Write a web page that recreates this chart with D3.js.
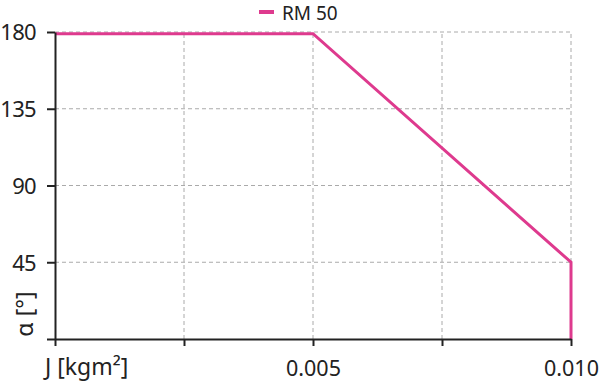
<!DOCTYPE html>
<html><head><meta charset="utf-8">
<script src="https://cdn.jsdelivr.net/npm/d3@7"></script>
<style>body{margin:0;background:#fff}svg{display:block}text{font-family:"Noto Sans",sans-serif;fill:#222}</style>
</head><body><svg id="c" width="600" height="383"></svg>
<script>
const seriesName = "RM 50";
const jValues = [0, 0.005, 0.010, 0.010];
const alphaValues = [179, 179, 45, 0];
const xTicks = [0, 0.0025, 0.005, 0.0075, 0.010];
const xTickLabels = ["", "", "0.005", "", "0.010"];
const yTicks = [0, 45, 90, 135, 180];
const yTickLabels = ["", "45", "90", "135", "180"];
const xTitle = "J [kgm²]";
const yTitle = "α [°]";
const color = "#de3a8e";

const svg = d3.select("#c");
const m = {l:55, r:29, t:32, b:44};
const W = 600, H = 383;
const x = d3.scaleLinear().domain([0, 0.010]).range([m.l, W - m.r]);
const y = d3.scaleLinear().domain([0, 180]).range([H - m.b, m.t]);

// grid
const g = svg.append("g");
g.selectAll(".gx").data(xTicks.slice(1)).join("line")
  .attr("x1", d => x(d)).attr("x2", d => x(d)).attr("y1", y(0)).attr("y2", y(180))
  .attr("stroke", "#aaa").attr("stroke-width", 1).attr("stroke-dasharray", "4,3");
g.selectAll(".gy").data(yTicks.slice(1)).join("line")
  .attr("y1", d => y(d)).attr("y2", d => y(d)).attr("x1", x(0)).attr("x2", x(0.010))
  .attr("stroke", "#aaa").attr("stroke-width", 1).attr("stroke-dasharray", "4,3");

// line
const line = d3.line().x((d, i) => x(jValues[i])).y((d, i) => y(alphaValues[i]));
svg.append("path").datum(alphaValues).attr("d", line).attr("fill", "none")
  .attr("stroke", color).attr("stroke-width", 3).attr("stroke-linejoin", "miter");

// axes
const xAxis = d3.axisBottom(x).tickValues(xTicks).tickFormat((d, i) => xTickLabels[i]).tickSize(7).tickSizeOuter(0);
const gx = svg.append("g").attr("transform", `translate(0,${y(0)})`).call(xAxis);
gx.select(".domain").attr("stroke", "#222").attr("stroke-width", 2);
gx.selectAll(".tick line").attr("stroke", "#222").attr("stroke-width", 2);
gx.selectAll(".tick text").attr("font-size", 21.5).attr("y", 37).attr("dy", 0).attr("fill", "#222")
  .style("font-family", '"Noto Sans",sans-serif');

const yAxis = d3.axisLeft(y).tickValues(yTicks).tickFormat((d, i) => yTickLabels[i]).tickSize(8).tickSizeOuter(0);
const gy = svg.append("g").attr("transform", `translate(${x(0)},0)`).call(yAxis);
gy.select(".domain").attr("stroke", "#222").attr("stroke-width", 2);
gy.selectAll(".tick line").attr("stroke", "#222").attr("stroke-width", 2);
gy.selectAll(".tick text").attr("font-size", 22).attr("x", -19).attr("dy", "0.36em").attr("fill", "#222")
  .attr("letter-spacing", -0.7).style("font-family", '"Noto Sans",sans-serif');

// titles
svg.append("text").attr("x", 45).attr("y", 375).attr("font-size", 23).text(xTitle);
svg.append("text").attr("transform", `translate(33,314) rotate(-90)`).attr("text-anchor", "middle")
  .attr("font-size", 23).text(yTitle);

// legend
svg.append("line").attr("x1", 259).attr("x2", 274).attr("y1", 12).attr("y2", 12)
  .attr("stroke", color).attr("stroke-width", 4);
svg.append("text").attr("x", 282).attr("y", 20).attr("font-size", 19).text(seriesName);
</script></body></html>
